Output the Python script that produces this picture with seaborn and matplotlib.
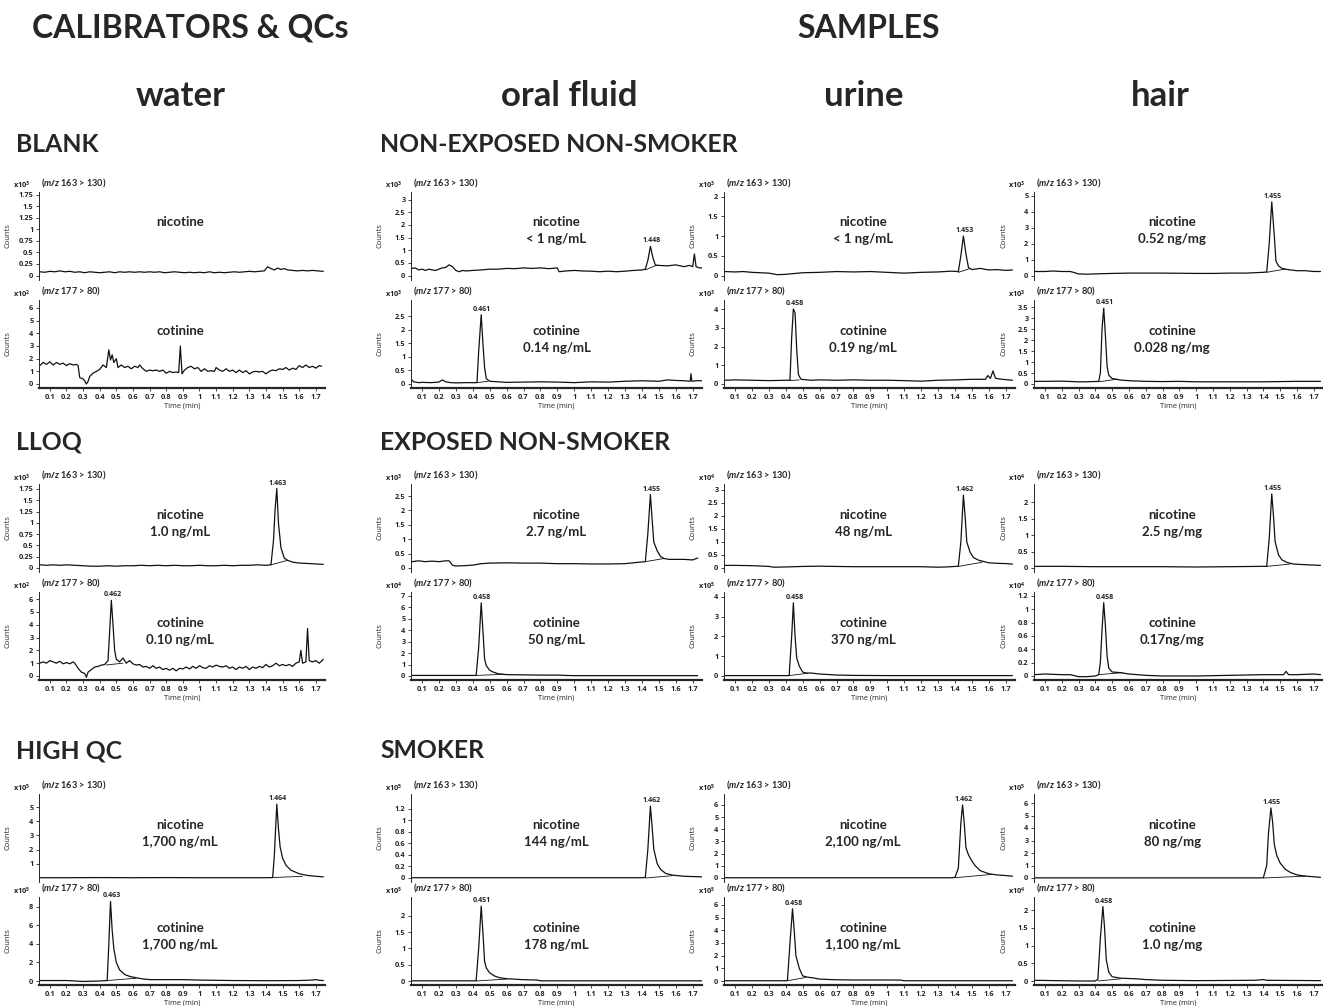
import numpy as np
import matplotlib.pyplot as plt
import seaborn as sns
from matplotlib.ticker import FuncFormatter

# ---------------- traces ----------------
# time in min, counts in units of the panel multiplier (x10^n)

# water - BLANK
w_blank_nic_t = [0.04, 0.07, 0.10, 0.13, 0.16, 0.19, 0.22, 0.25, 0.28, 0.31, 0.34, 0.37, 0.40, 0.43, 0.46,
                 0.49, 0.52, 0.55, 0.58, 0.61, 0.64, 0.67, 0.70, 0.73, 0.76, 0.79, 0.82, 0.85, 0.88, 0.91,
                 0.94, 0.97, 1.00, 1.03, 1.06, 1.09, 1.12, 1.15, 1.18, 1.21, 1.24, 1.27, 1.30, 1.33, 1.36,
                 1.39, 1.41, 1.43, 1.45, 1.47, 1.49, 1.51, 1.53, 1.56, 1.59, 1.62, 1.65, 1.68, 1.71, 1.745]
w_blank_nic_y = [0.08, 0.07, 0.09, 0.08, 0.10, 0.08, 0.09, 0.07, 0.08, 0.06, 0.08, 0.07, 0.06, 0.07, 0.08,
                 0.06, 0.08, 0.07, 0.08, 0.07, 0.08, 0.07, 0.08, 0.07, 0.08, 0.06, 0.07, 0.08, 0.07, 0.06,
                 0.07, 0.06, 0.07, 0.06, 0.08, 0.06, 0.07, 0.06, 0.07, 0.08, 0.07, 0.08, 0.09, 0.08, 0.09,
                 0.10, 0.19, 0.15, 0.12, 0.16, 0.13, 0.15, 0.12, 0.11, 0.10, 0.11, 0.10, 0.11, 0.10, 0.09]
w_blank_cot_t = [0.04, 0.06, 0.08, 0.10, 0.12, 0.14, 0.16, 0.18, 0.20, 0.22, 0.24, 0.26, 0.27, 0.28, 0.30,
                 0.31, 0.32, 0.33, 0.34, 0.36, 0.38, 0.40, 0.42, 0.44, 0.455, 0.465, 0.475, 0.485, 0.50, 0.51,
                 0.53, 0.55, 0.57, 0.59, 0.61, 0.63, 0.64, 0.66, 0.68, 0.70, 0.72, 0.74, 0.76, 0.78, 0.80,
                 0.82, 0.84, 0.86, 0.875, 0.885, 0.895, 0.91, 0.93, 0.95, 0.97, 0.99, 1.01, 1.03, 1.05, 1.07,
                 1.09, 1.10, 1.12, 1.14, 1.16, 1.18, 1.20, 1.22, 1.24, 1.26, 1.28, 1.30, 1.32, 1.34, 1.36,
                 1.38, 1.40, 1.42, 1.44, 1.46, 1.48, 1.50, 1.52, 1.54, 1.56, 1.58, 1.60, 1.62, 1.64, 1.66,
                 1.68, 1.70, 1.72, 1.735]
w_blank_cot_y = [1.45, 1.7, 1.55, 1.75, 1.5, 1.7, 1.55, 1.65, 1.45, 1.6, 1.5, 1.55, 1.45, 0.5, 0.4,
                 0.25, 0.0, 0.2, 0.6, 0.85, 1.0, 1.15, 1.5, 1.3, 2.7, 1.9, 2.3, 1.7, 2.0, 1.3,
                 1.5, 1.3, 1.4, 1.2, 1.4, 1.3, 1.5, 1.2, 1.0, 1.1, 1.05, 1.1, 1.0, 1.1, 0.85,
                 1.0, 0.9, 0.95, 0.9, 3.0, 0.8, 1.1, 1.3, 1.4, 1.2, 1.3, 1.0, 1.2, 1.0, 1.05,
                 1.0, 1.3, 1.1, 1.0, 1.2, 1.0, 1.1, 0.9, 1.1, 0.9, 1.05, 0.8, 0.95, 1.0, 0.95,
                 1.0, 0.8, 1.0, 1.1, 1.05, 1.2, 1.15, 1.3, 1.1, 1.25, 1.15, 1.45, 1.3, 1.5, 1.3,
                 1.4, 1.25, 1.45, 1.4]

# water - LLOQ
w_lloq_nic_t = [0.04, 0.08, 0.12, 0.16, 0.20, 0.25, 0.30, 0.35, 0.40, 0.45, 0.50, 0.55, 0.60, 0.65, 0.70,
                0.75, 0.80, 0.85, 0.90, 0.95, 1.00, 1.05, 1.10, 1.15, 1.20, 1.25, 1.30, 1.35, 1.40, 1.43,
                1.445, 1.455, 1.465, 1.475, 1.49, 1.51, 1.53, 1.56, 1.60, 1.65, 1.70, 1.745]
w_lloq_nic_y = [0.07, 0.06, 0.07, 0.06, 0.07, 0.06, 0.05, 0.04, 0.04, 0.05, 0.04, 0.05, 0.05, 0.06, 0.05,
                0.06, 0.05, 0.06, 0.05, 0.05, 0.06, 0.05, 0.05, 0.06, 0.05, 0.06, 0.06, 0.07, 0.06, 0.07,
                0.6, 1.3, 1.76, 1.0, 0.45, 0.22, 0.17, 0.13, 0.11, 0.10, 0.09, 0.08]
w_lloq_cot_t = [0.04, 0.06, 0.08, 0.10, 0.12, 0.14, 0.16, 0.18, 0.20, 0.22, 0.24, 0.25, 0.27, 0.29, 0.31,
                0.32, 0.33, 0.35, 0.37, 0.39, 0.41, 0.43, 0.45, 0.46, 0.47, 0.48, 0.49, 0.50, 0.52, 0.54,
                0.56, 0.58, 0.60, 0.62, 0.64, 0.66, 0.68, 0.70, 0.72, 0.74, 0.76, 0.78, 0.80, 0.82, 0.84,
                0.86, 0.88, 0.90, 0.92, 0.94, 0.96, 0.98, 1.00, 1.02, 1.04, 1.06, 1.08, 1.10, 1.12, 1.14,
                1.16, 1.18, 1.20, 1.22, 1.24, 1.26, 1.28, 1.30, 1.32, 1.34, 1.36, 1.38, 1.40, 1.42, 1.44,
                1.46, 1.48, 1.50, 1.52, 1.54, 1.56, 1.58, 1.60, 1.61, 1.62, 1.64, 1.65, 1.66, 1.68, 1.70,
                1.72, 1.745]
w_lloq_cot_y = [1.0, 1.1, 1.0, 1.2, 1.1, 1.0, 1.15, 0.95, 1.05, 0.95, 1.1, 1.0, 0.6, 0.3, 0.2,
                -0.1, 0.3, 0.5, 0.7, 0.75, 0.85, 0.9, 1.2, 3.5, 5.9, 4.0, 2.0, 1.3, 1.1, 1.4,
                1.0, 1.2, 0.95, 0.85, 0.9, 0.7, 0.75, 0.6, 0.8, 0.6, 0.7, 0.5, 0.6, 0.45, 0.6,
                0.4, 0.6, 0.55, 0.7, 0.55, 0.75, 0.6, 0.8, 0.65, 0.6, 0.8, 0.7, 0.85, 0.75, 0.7,
                0.8, 0.6, 0.7, 0.5, 0.7, 0.6, 0.75, 0.5, 0.7, 0.6, 0.75, 0.65, 0.9, 0.7, 0.8,
                1.0, 0.8, 0.9, 0.8, 0.9, 0.75, 1.0, 1.1, 2.0, 1.0, 1.1, 3.7, 1.2, 1.1, 1.2,
                1.0, 1.3]

# water - HIGH QC
w_high_nic_t = [0.04, 0.2, 0.4, 0.6, 0.8, 1.0, 1.2, 1.4, 1.44, 1.45, 1.465, 1.475, 1.485, 1.50, 1.52,
                1.55, 1.60, 1.65, 1.70, 1.745]
w_high_nic_y = [0.02, 0.02, 0.03, 0.02, 0.03, 0.02, 0.02, 0.02, 0.03, 1.5, 5.2, 3.5, 2.2, 1.4, 0.9,
                0.55, 0.3, 0.18, 0.12, 0.08]
w_high_cot_t = [0.04, 0.2, 0.3, 0.4, 0.445, 0.455, 0.465, 0.475, 0.485, 0.50, 0.52, 0.55, 0.58, 0.62, 0.66,
                0.70, 0.80, 0.90, 1.00, 1.20, 1.40, 1.60, 1.68, 1.70, 1.72, 1.745]
w_high_cot_y = [0.05, 0.05, -0.05, 0.0, 0.05, 4.0, 8.6, 5.5, 3.5, 2.0, 1.2, 0.7, 0.5, 0.35, 0.22,
                0.15, 0.15, 0.15, 0.1, 0.05, 0.03, 0.05, 0.1, 0.15, 0.08, 0.05]

# oral fluid
of_nonexp_nic_t = [0.04, 0.06, 0.08, 0.10, 0.12, 0.14, 0.16, 0.18, 0.20, 0.22, 0.24, 0.26, 0.28, 0.30, 0.32,
                   0.34, 0.36, 0.40, 0.45, 0.50, 0.55, 0.60, 0.65, 0.70, 0.75, 0.80, 0.85, 0.90, 0.91, 0.95,
                   1.00, 1.05, 1.10, 1.15, 1.20, 1.25, 1.30, 1.35, 1.40, 1.42, 1.435, 1.45, 1.465, 1.48, 1.50,
                   1.55, 1.60, 1.65, 1.68, 1.70, 1.71, 1.72, 1.74, 1.755]
of_nonexp_nic_y = [0.28, 0.3, 0.22, 0.25, 0.2, 0.25, 0.22, 0.2, 0.25, 0.3, 0.32, 0.42, 0.35, 0.2, 0.15,
                   0.2, 0.18, 0.2, 0.22, 0.25, 0.25, 0.28, 0.27, 0.3, 0.28, 0.3, 0.27, 0.3, 0.15, 0.18,
                   0.2, 0.18, 0.17, 0.15, 0.17, 0.15, 0.17, 0.2, 0.22, 0.25, 0.6, 1.15, 0.7, 0.4, 0.4,
                   0.38, 0.42, 0.35, 0.4, 0.35, 0.85, 0.35, 0.3, 0.3]
of_nonexp_cot_t = [0.04, 0.05, 0.08, 0.10, 0.15, 0.20, 0.22, 0.24, 0.27, 0.30, 0.35, 0.40, 0.425, 0.435, 0.45,
                   0.46, 0.47, 0.48, 0.50, 0.55, 0.60, 0.70, 0.80, 0.90, 1.00, 1.10, 1.20, 1.30, 1.40, 1.50,
                   1.55, 1.60, 1.65, 1.685, 1.69, 1.695, 1.72, 1.755]
of_nonexp_cot_y = [0.15, 0.08, 0.05, 0.06, 0.05, 0.07, 0.15, 0.08, 0.05, 0.04, 0.05, 0.05, 0.05, 1.2, 2.55,
                   1.5, 0.6, 0.2, 0.1, 0.08, 0.06, 0.07, 0.08, 0.07, 0.05, 0.08, 0.07, 0.1, 0.12, 0.1,
                   0.15, 0.13, 0.12, 0.1, 0.38, 0.1, 0.12, 0.12]
of_exp_nic_t = [0.04, 0.08, 0.12, 0.16, 0.20, 0.24, 0.26, 0.28, 0.30, 0.35, 0.40, 0.45, 0.50, 0.60, 0.70,
                0.80, 0.90, 1.00, 1.10, 1.20, 1.30, 1.38, 1.42, 1.435, 1.45, 1.46, 1.47, 1.49, 1.51, 1.53,
                1.56, 1.60, 1.65, 1.70, 1.73]
of_exp_nic_y = [0.22, 0.25, 0.22, 0.24, 0.22, 0.25, 0.25, 0.1, 0.07, 0.08, 0.1, 0.15, 0.17, 0.18, 0.17,
                0.17, 0.15, 0.15, 0.14, 0.14, 0.15, 0.2, 0.22, 1.2, 2.55, 1.7, 0.9, 0.6, 0.4, 0.33,
                0.3, 0.3, 0.3, 0.28, 0.35]
of_exp_cot_t = [0.04, 0.20, 0.40, 0.42, 0.435, 0.45, 0.46, 0.47, 0.48, 0.50, 0.52, 0.55, 0.60, 0.70, 0.80,
                0.90, 0.95, 1.00, 1.20, 1.50, 1.73]
of_exp_cot_y = [0.05, 0.05, 0.05, 0.05, 2.5, 6.4, 4.0, 1.5, 0.9, 0.5, 0.35, 0.2, 0.12, 0.1, 0.08,
                0.08, 0.05, 0.03, 0.03, 0.03, 0.03]
of_smoker_nic_t = [0.04, 0.40, 0.80, 1.20, 1.40, 1.42, 1.435, 1.45, 1.46, 1.47, 1.49, 1.51, 1.54, 1.58, 1.65,
                   1.755]
of_smoker_nic_y = [0.005, 0.005, 0.005, 0.005, 0.005, 0.01, 0.5, 1.25, 0.9, 0.5, 0.25, 0.15, 0.08, 0.05, 0.03,
                   0.02]
of_smoker_cot_t = [0.04, 0.40, 0.42, 0.435, 0.45, 0.46, 0.47, 0.48, 0.50, 0.53, 0.56, 0.60, 0.70, 0.78, 0.80,
                   1.20, 1.755]
of_smoker_cot_y = [0.005, 0.005, 0.01, 1.0, 2.3, 1.5, 0.6, 0.4, 0.25, 0.15, 0.1, 0.07, 0.04, 0.03, 0.005,
                   0.005, 0.005]

# urine
ur_nonexp_nic_t = [0.04, 0.10, 0.15, 0.20, 0.25, 0.30, 0.35, 0.40, 0.45, 0.50, 0.60, 0.70, 0.80, 0.90, 1.00,
                   1.10, 1.20, 1.30, 1.38, 1.42, 1.435, 1.45, 1.465, 1.48, 1.50, 1.55, 1.60, 1.65, 1.70, 1.74]
ur_nonexp_nic_y = [0.10, 0.09, 0.10, 0.08, 0.07, 0.06, 0.02, 0.03, 0.05, 0.07, 0.08, 0.10, 0.09, 0.10, 0.08,
                   0.06, 0.08, 0.09, 0.11, 0.10, 0.5, 1.0, 0.55, 0.2, 0.15, 0.18, 0.14, 0.15, 0.13, 0.14]
ur_nonexp_cot_t = [0.04, 0.10, 0.20, 0.30, 0.40, 0.425, 0.435, 0.445, 0.455, 0.465, 0.475, 0.49, 0.55, 0.60, 0.70,
                   0.80, 0.90, 1.00, 1.10, 1.20, 1.30, 1.40, 1.50, 1.58, 1.595, 1.61, 1.625, 1.64, 1.68, 1.74]
ur_nonexp_cot_y = [0.2, 0.22, 0.2, 0.18, 0.2, 0.2, 2.5, 4.0, 3.8, 1.8, 0.5, 0.25, 0.2, 0.22, 0.2,
                   0.22, 0.2, 0.2, 0.18, 0.15, 0.2, 0.22, 0.25, 0.25, 0.45, 0.3, 0.7, 0.3, 0.25, 0.2]
ur_exp_nic_t = [0.04, 0.10, 0.20, 0.30, 0.33, 0.40, 0.50, 0.60, 0.70, 0.80, 0.90, 1.00, 1.10, 1.20, 1.30,
                1.35, 1.40, 1.42, 1.435, 1.45, 1.46, 1.47, 1.49, 1.51, 1.54, 1.57, 1.60, 1.65, 1.70, 1.74]
ur_exp_nic_y = [0.1, 0.1, 0.09, 0.06, 0.03, 0.04, 0.06, 0.07, 0.06, 0.05, 0.05, 0.05, 0.05, 0.05, 0.03,
                0.04, 0.06, 0.07, 1.0, 2.8, 2.0, 1.0, 0.6, 0.4, 0.3, 0.25, 0.2, 0.18, 0.17, 0.15]
ur_exp_cot_t = [0.04, 0.20, 0.40, 0.42, 0.435, 0.445, 0.455, 0.465, 0.48, 0.50, 0.52, 0.55, 0.60, 0.70, 0.80,
                1.00, 1.40, 1.74]
ur_exp_cot_y = [0.02, 0.02, 0.02, 0.02, 2.0, 3.7, 2.0, 0.9, 0.5, 0.2, 0.15, 0.15, 0.1, 0.05, 0.03,
                0.02, 0.02, 0.02]
ur_smoker_nic_t = [0.04, 0.50, 1.00, 1.38, 1.40, 1.42, 1.435, 1.445, 1.455, 1.465, 1.48, 1.50, 1.52, 1.55, 1.60,
                   1.65, 1.70, 1.74]
ur_smoker_nic_y = [0.02, 0.02, 0.02, 0.02, 0.05, 0.8, 4.5, 6.0, 4.5, 2.5, 1.9, 1.4, 1.0, 0.6, 0.35,
                   0.25, 0.2, 0.15]
ur_smoker_cot_t = [0.04, 0.40, 0.41, 0.425, 0.44, 0.45, 0.46, 0.47, 0.48, 0.50, 0.53, 0.56, 0.60, 0.65, 0.70,
                   0.80, 1.00, 1.08, 1.10, 1.74]
ur_smoker_cot_y = [0.02, 0.02, 0.05, 3.0, 5.7, 4.0, 2.0, 1.5, 1.0, 0.4, 0.3, 0.25, 0.15, 0.12, 0.1,
                   0.08, 0.08, 0.07, 0.02, 0.02]

# hair
hr_nonexp_nic_t = [0.035, 0.10, 0.15, 0.20, 0.25, 0.27, 0.30, 0.35, 0.40, 0.50, 0.60, 0.70, 0.80, 0.90, 1.00,
                   1.10, 1.20, 1.30, 1.40, 1.42, 1.435, 1.45, 1.465, 1.475, 1.49, 1.51, 1.53, 1.56, 1.60, 1.65,
                   1.70, 1.74]
hr_nonexp_nic_y = [0.25, 0.25, 0.28, 0.25, 0.25, 0.2, 0.1, 0.08, 0.1, 0.13, 0.15, 0.15, 0.15, 0.14, 0.13,
                   0.13, 0.15, 0.15, 0.2, 0.22, 2.0, 4.6, 2.5, 0.9, 0.6, 0.45, 0.4, 0.35, 0.3, 0.3,
                   0.25, 0.25]
hr_nonexp_cot_t = [0.035, 0.10, 0.20, 0.30, 0.35, 0.42, 0.43, 0.44, 0.45, 0.46, 0.47, 0.48, 0.50, 0.55, 0.60,
                   0.70, 0.80, 0.90, 1.00, 1.20, 1.40, 1.60, 1.70, 1.74]
hr_nonexp_cot_y = [0.12, 0.12, 0.13, 0.1, 0.1, 0.12, 0.5, 2.5, 3.45, 2.2, 0.8, 0.4, 0.25, 0.18, 0.15,
                   0.12, 0.11, 0.12, 0.1, 0.1, 0.1, 0.12, 0.12, 0.12]
hr_exp_nic_t = [0.035, 0.20, 0.40, 0.60, 0.80, 1.00, 1.20, 1.40, 1.42, 1.435, 1.45, 1.46, 1.47, 1.49, 1.51,
                1.54, 1.58, 1.65, 1.74]
hr_exp_nic_y = [0.05, 0.05, 0.04, 0.04, 0.04, 0.03, 0.04, 0.05, 0.05, 0.9, 2.25, 1.6, 0.8, 0.4, 0.25,
                0.17, 0.12, 0.1, 0.08]
hr_exp_cot_t = [0.035, 0.10, 0.20, 0.25, 0.30, 0.35, 0.40, 0.42, 0.43, 0.44, 0.45, 0.46, 0.47, 0.48, 0.50,
                0.55, 0.60, 0.70, 0.80, 1.00, 1.20, 1.40, 1.52, 1.535, 1.55, 1.60, 1.70, 1.74]
hr_exp_cot_y = [0.02, 0.03, 0.02, 0.02, -0.01, -0.01, 0.0, 0.02, 0.2, 0.7, 1.1, 0.75, 0.3, 0.12, 0.06,
                0.05, 0.03, 0.01, 0.0, 0.0, 0.01, 0.02, 0.02, 0.07, 0.02, 0.02, 0.03, 0.02]
hr_smoker_nic_t = [0.035, 0.50, 1.00, 1.38, 1.40, 1.42, 1.43, 1.445, 1.455, 1.465, 1.48, 1.50, 1.53, 1.56, 1.60,
                   1.65, 1.70, 1.74]
hr_smoker_nic_y = [0.01, 0.01, 0.01, 0.01, 0.02, 1.0, 3.5, 5.6, 4.5, 2.7, 1.8, 1.2, 0.7, 0.45, 0.25,
                   0.15, 0.1, 0.05]
hr_smoker_cot_t = [0.035, 0.30, 0.40, 0.415, 0.43, 0.445, 0.455, 0.465, 0.48, 0.50, 0.55, 0.60, 0.65, 0.70, 0.80,
                   1.00, 1.35, 1.40, 1.42, 1.74]
hr_smoker_cot_y = [0.02, 0.0, 0.0, 0.05, 1.2, 2.1, 1.5, 0.6, 0.25, 0.12, 0.08, 0.07, 0.06, 0.04, 0.02,
                   0.01, 0.02, 0.04, 0.02, 0.01]

# integration baselines under the peaks: t0, y0, t1, y1  ([] = none)
base_nic = [[[], [1.43, 0.07, 1.53, 0.17], [1.44, 0.03, 1.62, 0.12]],
            [[1.42, 0.22, 1.49, 0.42], [1.42, 0.22, 1.53, 0.33], [1.42, 0.0, 1.58, 0.04]],
            [[1.42, 0.08, 1.49, 0.18], [1.42, 0.06, 1.56, 0.22], [1.40, 0.02, 1.62, 0.3]],
            [[1.42, 0.2, 1.53, 0.4], [1.42, 0.05, 1.56, 0.12], [1.40, 0.0, 1.65, 0.15]]]
base_cot = [[[], [0.44, 0.86, 0.54, 1.0], [0.445, 0.05, 0.62, 0.3]],
            [[0.425, 0.05, 0.49, 0.1], [0.42, 0.05, 0.58, 0.15], [0.42, 0.0, 0.6, 0.06]],
            [[0.425, 0.18, 0.48, 0.22], [0.42, 0.02, 0.53, 0.14], [0.41, 0.02, 0.52, 0.28]],
            [[0.42, 0.1, 0.53, 0.22], [0.42, 0.02, 0.56, 0.05], [0.415, 0.0, 0.55, 0.06]]]

# labels, multipliers and axis ranges  [column][row]
col_titles = ['water', 'oral fluid', 'urine', 'hair']
cal_rows = ['BLANK', 'LLOQ', 'HIGH QC']
sample_rows = ['NON-EXPOSED NON-SMOKER', 'EXPOSED NON-SMOKER', 'SMOKER']
conc_nic = [['', '1.0 ng/mL', '1,700 ng/mL'],
            ['< 1 ng/mL', '2.7 ng/mL', '144 ng/mL'],
            ['< 1 ng/mL', '48 ng/mL', '2,100 ng/mL'],
            ['0.52 ng/mg', '2.5 ng/mg', '80 ng/mg']]
conc_cot = [['', '0.10 ng/mL', '1,700 ng/mL'],
            ['0.14 ng/mL', '50 ng/mL', '178 ng/mL'],
            ['0.19 ng/mL', '370 ng/mL', '1,100 ng/mL'],
            ['0.028 ng/mg', '0.17ng/mg', '1.0 ng/mg']]
rt_nic = [['', '1.463', '1.464'], ['1.448', '1.455', '1.462'],
          ['1.453', '1.462', '1.462'], ['1.455', '1.455', '1.455']]
rt_cot = [['', '0.462', '0.463'], ['0.461', '0.458', '0.451'],
          ['0.458', '0.458', '0.458'], ['0.451', '0.458', '0.458']]
exp_nic = [[3, 3, 5], [3, 3, 5], [3, 4, 5], [3, 4, 5]]
exp_cot = [[2, 2, 5], [3, 4, 5], [3, 5, 5], [3, 4, 4]]
ymax_nic = [[1.815, 1.86, 5.92], [3.32, 2.92, 1.46], [2.13, 3.23, 6.9], [5.25, 2.55, 6.72]]
ymax_cot = [[6.63, 6.55, 9.08], [3.09, 7.35, 2.58], [4.48, 4.25, 6.63], [3.82, 1.26, 2.37]]
ticks_nic = [[[0, 0.25, 0.5, 0.75, 1, 1.25, 1.5, 1.75], [0, 0.25, 0.5, 0.75, 1, 1.25, 1.5, 1.75], [1, 2, 3, 4, 5]],
             [[0, 0.5, 1, 1.5, 2, 2.5, 3], [0, 0.5, 1, 1.5, 2, 2.5], [0, 0.2, 0.4, 0.6, 0.8, 1, 1.2]],
             [[0, 0.5, 1, 1.5, 2], [0, 0.5, 1, 1.5, 2, 2.5, 3], [0, 1, 2, 3, 4, 5, 6]],
             [[0, 1, 2, 3, 4, 5], [0, 0.5, 1, 1.5, 2], [0, 1, 2, 3, 4, 5, 6]]]
ticks_cot = [[[0, 1, 2, 3, 4, 5, 6], [0, 1, 2, 3, 4, 5, 6], [0, 2, 4, 6, 8]],
             [[0, 0.5, 1, 1.5, 2, 2.5], [0, 1, 2, 3, 4, 5, 6, 7], [0, 0.5, 1, 1.5, 2]],
             [[0, 1, 2, 3, 4], [0, 1, 2, 3, 4], [0, 1, 2, 3, 4, 5, 6]],
             [[0, 0.5, 1, 1.5, 2, 2.5, 3, 3.5], [0, 0.2, 0.4, 0.6, 0.8, 1, 1.2], [0, 0.5, 1, 1.5, 2]]]
time_ticks = [0.1, 0.2, 0.3, 0.4, 0.5, 0.6, 0.7, 0.8, 0.9, 1.0, 1.1, 1.2, 1.3, 1.4, 1.5, 1.6, 1.7]

traces = [
    [(w_blank_nic_t, w_blank_nic_y, w_blank_cot_t, w_blank_cot_y),
     (w_lloq_nic_t, w_lloq_nic_y, w_lloq_cot_t, w_lloq_cot_y),
     (w_high_nic_t, w_high_nic_y, w_high_cot_t, w_high_cot_y)],
    [(of_nonexp_nic_t, of_nonexp_nic_y, of_nonexp_cot_t, of_nonexp_cot_y),
     (of_exp_nic_t, of_exp_nic_y, of_exp_cot_t, of_exp_cot_y),
     (of_smoker_nic_t, of_smoker_nic_y, of_smoker_cot_t, of_smoker_cot_y)],
    [(ur_nonexp_nic_t, ur_nonexp_nic_y, ur_nonexp_cot_t, ur_nonexp_cot_y),
     (ur_exp_nic_t, ur_exp_nic_y, ur_exp_cot_t, ur_exp_cot_y),
     (ur_smoker_nic_t, ur_smoker_nic_y, ur_smoker_cot_t, ur_smoker_cot_y)],
    [(hr_nonexp_nic_t, hr_nonexp_nic_y, hr_nonexp_cot_t, hr_nonexp_cot_y),
     (hr_exp_nic_t, hr_exp_nic_y, hr_exp_cot_t, hr_exp_cot_y),
     (hr_smoker_nic_t, hr_smoker_nic_y, hr_smoker_cot_t, hr_smoker_cot_y)],
]

# ---------------- style / layout ----------------
sns.set_style('ticks')
# small print in Open Sans (its full stop survives at 5 pt), headings in Lato
plt.rcParams['font.family'] = ['Open Sans', 'DejaVu Sans']
plt.rcParams['font.weight'] = 'bold'
plt.rcParams['mathtext.fontset'] = 'custom'
plt.rcParams['mathtext.rm'] = 'Open Sans:bold'
plt.rcParams['mathtext.it'] = 'Lato:italic:bold'
plt.rcParams['mathtext.bf'] = 'Open Sans:bold'
BIG = ['Lato', 'DejaVu Sans']

W, H = 1323, 1006
fig = plt.figure(figsize=(W / 100, H / 100), dpi=100)

col_left = [39, 411, 724, 1034]
col_width = [286, 291, 291, 289]
name_x = [0.493, 0.50, 0.478, 0.478]
nic_zero = [275.5, 568, 878]
cot_zero = [384, 676, 981]
LINE = '#111111'
fmt = FuncFormatter(lambda v, p: f'{v:g}')


def chrom(c, zero, t, y, ymax, ticks, expo, mz, name, conc, rt, base, bottom):
    ax = fig.add_axes([col_left[c] / W, 1 - (zero + 4) / H, col_width[c] / W, 88 / H])
    sns.lineplot(x=t, y=y, ax=ax, color=LINE, lw=0.9, estimator=None, sort=False)
    if base:
        ax.plot([base[0], base[2]], [base[1], base[3]], color=LINE, lw=0.6)
    ax.set_xlim(0.035, 1.755)
    ax.set_ylim(-ymax * 4 / 84, ymax)
    ax.set_yticks(ticks)
    ax.yaxis.set_major_formatter(fmt)
    ax.tick_params(axis='y', labelsize=5.3, length=2.5, width=0.6, pad=1.5)
    for s in ['top', 'right']:
        ax.spines[s].set_visible(False)
    ax.spines['left'].set_linewidth(0.7)
    if bottom:
        ax.set_xticks(time_ticks)
        ax.xaxis.set_major_formatter(fmt)
        ax.tick_params(axis='x', labelsize=5.3, length=2.5, width=0.6, pad=2)
        ax.spines['bottom'].set_linewidth(1.6)
        ax.set_xlabel('Time (min)', fontsize=5.3, labelpad=1)
    else:
        ax.spines['bottom'].set_visible(False)
        ax.set_xticks([])
        ax.set_xlabel('')
    ax.set_ylabel('Counts', fontsize=5.5)
    ax.yaxis.set_label_coords(-27 / col_width[c], 0.5)
    ax.annotate(f'x10$^{{{expo}}}$', xy=(0, 1), xycoords='axes fraction', xytext=(-26, 6),
                textcoords='offset pixels', fontsize=5.3, ha='left', va='center')
    ax.annotate(mz, xy=(0, 1), xycoords='axes fraction', xytext=(2, 8.5),
                textcoords='offset pixels', fontsize=6.6, ha='left', va='center', family=BIG)
    ax.text(name_x[c], 0.65, name, transform=ax.transAxes, fontsize=9.5, ha='center', va='center',
            family=BIG)
    if conc:
        ax.text(name_x[c], 0.455, conc, transform=ax.transAxes, fontsize=9.5, ha='center', va='center',
                family=BIG)
    if rt:
        i = int(np.argmax(y))
        ax.annotate(rt, xy=(t[i], y[i]), xytext=(1, 2), textcoords='offset pixels',
                    fontsize=5.1, ha='center', va='bottom')
    return ax


for c in range(4):
    for r in range(3):
        nt, ny, ct, cy = traces[c][r]
        chrom(c, nic_zero[r], nt, ny, ymax_nic[c][r], ticks_nic[c][r], exp_nic[c][r],
              '($m/z$ 163 > 130)', 'nicotine', conc_nic[c][r], rt_nic[c][r], base_nic[c][r], False)
        chrom(c, cot_zero[r], ct, cy, ymax_cot[c][r], ticks_cot[c][r], exp_cot[c][r],
              '($m/z$ 177 > 80)', 'cotinine', conc_cot[c][r], rt_cot[c][r], base_cot[c][r], True)

# headings
fig.text(190 / W, 1 - 28 / H, 'CALIBRATORS & QCs', fontsize=23, ha='center', va='center', family=BIG)
fig.text(869 / W, 1 - 28 / H, 'SAMPLES', fontsize=23, ha='center', va='center', family=BIG)
for x, title in zip([181, 569, 864, 1160], col_titles):
    fig.text(x / W, 1 - 96 / H, title, fontsize=25, ha='center', va='center', family=BIG)
for y, lab in zip([145, 442, 751], cal_rows):
    fig.text(16 / W, 1 - y / H, lab, fontsize=17.8, ha='left', va='center', family=BIG)
for y, lab in zip([145, 442, 750], sample_rows):
    fig.text(380 / W, 1 - y / H, lab, fontsize=17.8, ha='left', va='center', family=BIG)

fig.savefig('out.png', dpi=100)
